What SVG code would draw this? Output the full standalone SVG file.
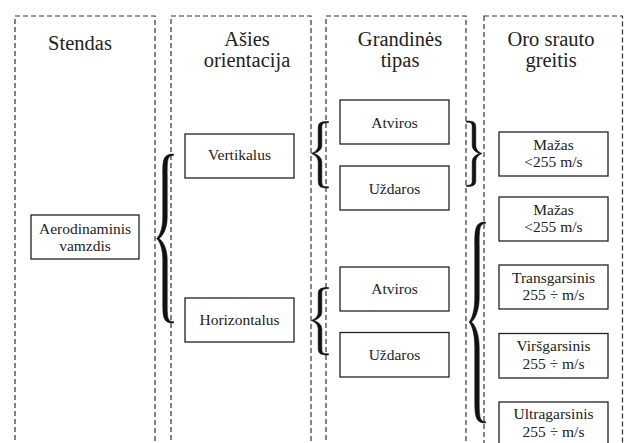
<svg xmlns="http://www.w3.org/2000/svg" width="624" height="443" viewBox="0 0 624 443">
<style>
.col{fill:none;stroke:#333;stroke-width:1.2;stroke-dasharray:5 3}
.box{fill:#fff;stroke:#222;stroke-width:1.3}
.h{font-family:"Liberation Serif","Times New Roman",serif;font-size:20.5px;fill:#222;text-anchor:middle}
.t{font-family:"Liberation Serif","Times New Roman",serif;font-size:15.5px;fill:#222;text-anchor:middle}
.br{fill:#111;stroke:#111;stroke-width:0.6}
</style>
<rect width="624" height="443" fill="#fff"/>
<g id="columns">
<g id="col-stendas"><rect class="col" x="15" y="16" width="140" height="460"/><text class="h" x="80" y="50">Stendas</text></g>
<g id="col-asies"><rect class="col" x="171" y="16" width="140" height="460"/><text class="h" x="247" y="45.5">Ašies</text><text class="h" x="247" y="67">orientacija</text></g>
<g id="col-grandines"><rect class="col" x="326" y="16" width="140" height="460"/><text class="h" x="400" y="45.5">Grandinės</text><text class="h" x="400" y="67">tipas</text></g>
<g id="col-oro"><rect class="col" x="484" y="16" width="138.5" height="460"/><text class="h" x="551" y="45.5">Oro srauto</text><text class="h" x="551" y="67">greitis</text></g>
</g>
<g id="connectors">
<path class="br" d="M173.5,154 C162.8,154 162.8,160.3 162.8,175.1 L162.8,217.4 C162.8,232.2 157.5,238 156.5,238.5 C157.5,239 162.8,244.8 162.8,259.6 L162.8,301.9 C162.8,316.7 162.8,323 173.5,323 L173.5,321.6 C167.2,321.6 167.2,316.7 167.2,301.9 L167.2,259.6 C167.2,244.8 160,239 159,238.5 C160,238 167.2,232.2 167.2,217.4 L167.2,175.1 C167.2,160.3 167.2,155.4 173.5,155.4 Z"/>
<path class="br" d="M328.5,121.5 C318.2,121.5 318.2,123.9 318.2,129.5 L318.2,145.5 C318.2,151.1 312.5,153 311.5,153.5 C312.5,154 318.2,155.9 318.2,162.1 L318.2,179.4 C318.2,185.4 318.2,188 328.5,188 L328.5,186.8 C321.8,186.8 321.8,185.4 321.8,179.4 L321.8,162.1 C321.8,155.9 315,154 314,153.5 C315,153 321.8,151.1 321.8,145.5 L321.8,129.5 C321.8,123.9 321.8,122.7 328.5,122.7 Z"/>
<path class="br" d="M328.5,287.5 C318.2,287.5 318.2,290 318.2,295.8 L318.2,312.3 C318.2,318 312.5,320 311.5,320.5 C312.5,321 318.2,323 318.2,329.1 L318.2,346.4 C318.2,352.4 318.2,355 328.5,355 L328.5,353.8 C321.8,353.8 321.8,352.4 321.8,346.4 L321.8,329.1 C321.8,323 315,321 314,320.5 C315,320 321.8,318 321.8,312.3 L321.8,295.8 C321.8,290 321.8,288.7 328.5,288.7 Z"/>
<path class="br" d="M466.5,121 C475.8,121 475.8,123.4 475.8,129.1 L475.8,145.4 C475.8,151 481,153 482,153.5 C481,154 475.8,156 475.8,161.75 L475.8,178.25 C475.8,184 475.8,186.5 466.5,186.5 L466.5,185.3 C472.2,185.3 472.2,184 472.2,178.25 L472.2,161.75 C472.2,156 478.5,154 479.5,153.5 C478.5,153 472.2,151 472.2,145.4 L472.2,129.1 C472.2,123.4 472.2,122.2 466.5,122.2 Z"/>
<path class="br" d="M485.5,222 C474.8,222 474.8,229.5 474.8,247 L474.8,297 C474.8,314.5 470,321.5 469,322 C470,322.5 474.8,329.6 474.8,347.25 L474.8,397.75 C474.8,415.4 474.8,423 485.5,423 L485.5,421.6 C479.2,421.6 479.2,415.4 479.2,397.75 L479.2,347.25 C479.2,329.6 472.5,322.5 471.5,322 C472.5,321.5 479.2,314.5 479.2,297 L479.2,247 C479.2,229.5 479.2,223.4 485.5,223.4 Z"/>
</g>
<g id="aerodinaminis"><rect class="box" x="31" y="215" width="108" height="44"/><text class="t" x="85" y="233.5">Aerodinaminis</text><text class="t" x="85" y="251">vamzdis</text></g>
<g id="vertikalus"><rect class="box" x="185" y="134" width="109" height="44"/><text class="t" x="239.5" y="160">Vertikalus</text></g>
<g id="horizontalus"><rect class="box" x="185" y="298" width="109" height="44"/><text class="t" x="239.5" y="325">Horizontalus</text></g>
<g id="atviros1"><rect class="box" x="340" y="100" width="109" height="44"/><text class="t" x="394.5" y="127.5">Atviros</text></g>
<g id="uzdaros1"><rect class="box" x="340" y="166" width="109" height="44"/><text class="t" x="394.5" y="193.5">Uždaros</text></g>
<g id="atviros2"><rect class="box" x="340" y="267" width="109" height="44"/><text class="t" x="394.5" y="294">Atviros</text></g>
<g id="uzdaros2"><rect class="box" x="340" y="332.5" width="109" height="44.5"/><text class="t" x="394.5" y="360">Uždaros</text></g>
<g id="mazas1"><rect class="box" x="499" y="132" width="109" height="44"/><text class="t" x="553.5" y="149.5">Mažas</text><text class="t" x="553.5" y="167">&lt;255 m/s</text></g>
<g id="mazas2"><rect class="box" x="499" y="197" width="109" height="44"/><text class="t" x="553.5" y="214.5">Mažas</text><text class="t" x="553.5" y="232">&lt;255 m/s</text></g>
<g id="transgarsinis"><rect class="box" x="499" y="265" width="109" height="44"/><text class="t" x="553.5" y="282.5">Transgarsinis</text><text class="t" x="553.5" y="300">255 ÷ m/s</text></g>
<g id="virsgarsinis"><rect class="box" x="499" y="333.5" width="109" height="44.5"/><text class="t" x="553.5" y="351">Viršgarsinis</text><text class="t" x="553.5" y="368.5">255 ÷ m/s</text></g>
<g id="ultragarsinis"><rect class="box" x="499" y="402" width="109" height="60"/><text class="t" x="553.5" y="418.5">Ultragarsinis</text><text class="t" x="553.5" y="436.5">255 ÷ m/s</text></g>
</svg>
